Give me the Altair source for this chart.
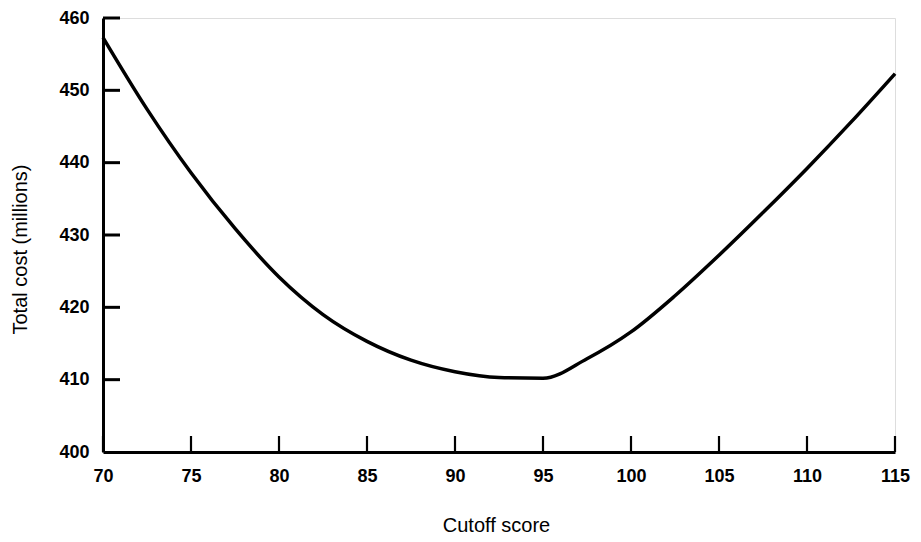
import altair as alt
import pandas as pd

cutoff = [70, 72.5, 75, 77.5, 80, 82.5, 85, 87.5, 90, 92.5, 95, 97.5, 100, 102.5, 105, 107.5, 110, 112.5, 115]
cost = [457.3, 447.4, 438.6, 430.9, 424.2, 419.0, 415.3, 412.7, 411.1, 410.3, 410.2, 412.9, 416.6, 421.6, 427.2, 433.1, 439.2, 445.6, 452.3]
x_ticks = [70, 75, 80, 85, 90, 95, 100, 105, 110, 115]
y_ticks = [410, 420, 430, 440, 450, 460]

W, H = 792, 434

df = pd.DataFrame({"cutoff": cutoff, "cost": cost})
xt = pd.DataFrame({"t": x_ticks})
yt = pd.DataFrame({"t": y_ticks})

xscale = alt.Scale(domain=[70, 115], nice=False, zero=False)
yscale = alt.Scale(domain=[400, 460], nice=False, zero=False)

xaxis = alt.Axis(values=x_ticks, ticks=False, grid=False, domainColor="black", domainWidth=3,
                 labelFont="Liberation Sans", labelFontSize=18, labelFontWeight="bold", labelColor="black",
                 labelPadding=15, title="Cutoff score", titleFont="Liberation Sans", titleFontSize=20,
                 titleFontWeight="normal", titleColor="black", titleX=393, titleY=73,
                 titleAlign="center", titleBaseline="middle", labelFlush=False)
yaxis = alt.Axis(values=[400] + y_ticks, ticks=False, grid=False, domainColor="black", domainWidth=3,
                 labelFont="Liberation Sans", labelFontSize=18, labelFontWeight="bold", labelColor="black",
                 labelPadding=14, title="Total cost (millions)", titleFont="Liberation Sans", titleFontSize=20,
                 titleFontWeight="normal", titleColor="black", titleX=-83, titleY=231, titleAngle=-90,
                 titleAlign="center", titleBaseline="middle", labelFlush=False)

line = alt.Chart(df).mark_line(color="black", strokeWidth=3.5, interpolate="monotone").encode(
    x=alt.X("cutoff:Q", scale=xscale, axis=xaxis),
    y=alt.Y("cost:Q", scale=yscale, axis=yaxis),
)

xtick = alt.Chart(xt).mark_rule(color="black", strokeWidth=2.2).encode(
    x=alt.X("t:Q", scale=xscale),
    y=alt.value(H),
    y2=alt.value(H - 16),
)
ytick = alt.Chart(yt).mark_rule(color="black", strokeWidth=3).encode(
    y=alt.Y("t:Q", scale=yscale),
    x=alt.value(0),
    x2=alt.value(17),
)

chart = alt.layer(line, xtick, ytick).properties(
    width=W, height=H,
    autosize=alt.AutoSizeParams(type="none"),
    padding={"left": 95, "top": 10, "right": 18, "bottom": 86},
).configure_view(stroke=None).configure(background="white")

chart.save("out.html", embed_options={"renderer": "svg", "actions": False})
